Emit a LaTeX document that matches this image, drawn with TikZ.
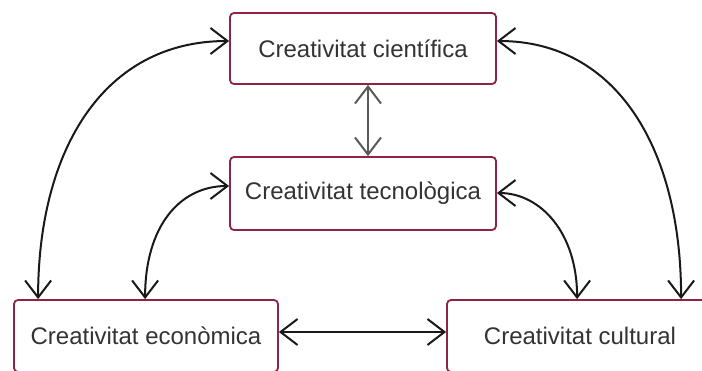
\documentclass[tikz,border=0pt]{standalone}
\usepackage{fontspec}
\setmainfont{Liberation Sans}
\usetikzlibrary{arrows.meta}
\definecolor{boxred}{HTML}{8E2443}
\definecolor{txtgray}{HTML}{333333}
\definecolor{midgray}{HTML}{5A5A5A}
\begin{document}
\begin{tikzpicture}[x=1pt,y=-1pt,
  cbox/.style={draw=boxred, line width=1.8pt, rounded corners=4pt, fill=white,
    text=txtgray, font=\fontsize{24}{28}\selectfont, inner sep=0pt},
  link/.style={line width=2pt, draw=black!90,
    {Straight Barb[length=17pt,width=26pt]}-{Straight Barb[length=17pt,width=26pt]}},
  midlink/.style={link, draw=midgray}]
\clip (0,0) rectangle (702,370);
\fill[white] (0,0) rectangle (702,370);
\node[cbox, minimum width=266pt, minimum height=71pt] (sci) at (363,48.5) {Creativitat científica};
\node[cbox, minimum width=266pt, minimum height=73pt] (tec) at (363,193.5) {Creativitat tecnològica};
\node[cbox, minimum width=264pt, minimum height=72pt] (eco) at (146,336) {Creativitat econòmica};
\node[cbox, minimum width=266pt, minimum height=72pt] (cul) at (580,336) {Creativitat cultural};
% vertical middle
\draw[midlink] ([xshift=5pt]sci.south) -- ([xshift=5pt]tec.south |- tec.north);
% horizontal bottom
\draw[link] ([yshift=4pt]eco.east) -- ([yshift=4pt]cul.west);
% left outer
\draw[link] ([xshift=25pt]eco.north west) .. controls +(0,-150) and +(-125,0) .. ([yshift=7.5pt]sci.west);
% left inner
\draw[link] ([xshift=132pt]eco.north west) .. controls +(0,-72) and +(-50,0) .. ([yshift=7.5pt]tec.west);
% right inner
\draw[link] ([xshift=131pt]cul.north west) .. controls +(0,-67) and +(43,0) .. ([yshift=0.5pt]tec.east);
% right outer
\draw[link] ([xshift=235pt]cul.north west) .. controls +(0,-150) and +(120,0) .. ([yshift=7.5pt]sci.east);
\end{tikzpicture}
\end{document}
